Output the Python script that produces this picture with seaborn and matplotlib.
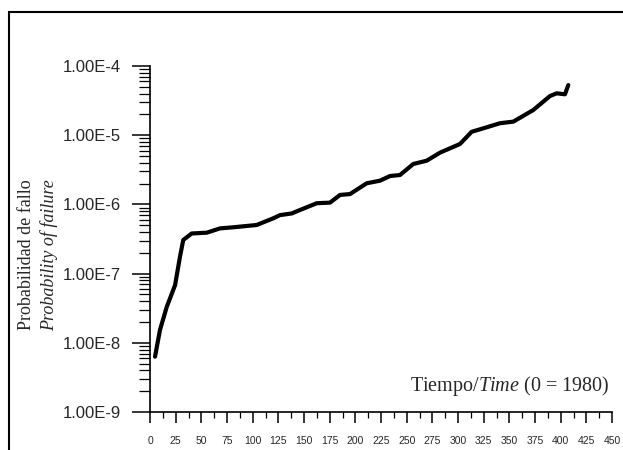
import numpy as np
import pandas as pd
import matplotlib
matplotlib.use('Agg')
import matplotlib.pyplot as plt
import matplotlib.ticker as mticker
from matplotlib.patches import Rectangle
import seaborn as sns

# ================= 0. style =================
sns.set_style('ticks')
plt.rcParams['font.family'] = ['Liberation Sans', 'DejaVu Sans']
plt.rcParams['mathtext.fontset'] = 'custom'
plt.rcParams['mathtext.rm'] = 'Liberation Serif'
plt.rcParams['mathtext.it'] = 'Liberation Serif:italic'

# ================= 1. data =================
tiempo = [4.9, 9.7, 16.3, 24.4, 29.2, 32.4, 40.6, 55.2, 68.2, 81.1,
          103.9, 120.1, 126.6, 138.0, 146.1, 162.4, 175.3, 185.1, 194.8, 211.1,
          224.0, 233.8, 243.5, 256.5, 269.5, 282.4, 301.9, 313.3, 327.9, 340.9,
          353.9, 373.3, 389.6, 396.1, 404.2, 407.4]
prob_fallo = [6.3e-9, 1.53e-8, 3.3e-8, 6.8e-8, 1.75e-7, 3.06e-7, 3.8e-7, 3.9e-7, 4.5e-7, 4.67e-7,
              5.04e-7, 6.3e-7, 7.0e-7, 7.4e-7, 8.3e-7, 1.04e-6, 1.06e-6, 1.37e-6, 1.41e-6, 2.02e-6,
              2.2e-6, 2.57e-6, 2.66e-6, 3.84e-6, 4.28e-6, 5.59e-6, 7.46e-6, 1.12e-5, 1.3e-5, 1.49e-5,
              1.57e-5, 2.31e-5, 3.68e-5, 4.03e-5, 3.9e-5, 5.3e-5]

y_ticks = [1e-9, 1e-8, 1e-7, 1e-6, 1e-5, 1e-4]
y_ticklabels = ['1.00E-9', '1.00E-8', '1.00E-7', '1.00E-6', '1.00E-5', '1.00E-4']

df = pd.DataFrame({'Tiempo': tiempo, 'Prob': prob_fallo})

# ================= 2. plot =================
fig = plt.figure(figsize=(6.23, 4.5), dpi=100)
ax = fig.add_axes([150 / 623, 1 - 412 / 450, 462 / 623, 346 / 450])

sns.lineplot(data=df, x='Tiempo', y='Prob', color='black', linewidth=3,
             sort=False, ax=ax)

ax.set_yscale('log')
ax.set_ylim(1e-9, 1e-4)
ax.set_xlim(0, 450)
sns.despine(ax=ax)
for s in ['left', 'bottom']:
    ax.spines[s].set_linewidth(1.2)
    ax.spines[s].set_color('black')

ax.yaxis.set_major_locator(mticker.FixedLocator(y_ticks))
ax.yaxis.set_major_formatter(mticker.FixedFormatter(y_ticklabels))
ax.yaxis.set_minor_locator(mticker.LogLocator(base=10, subs=np.arange(2, 10)))
ax.yaxis.set_minor_formatter(mticker.NullFormatter())

ax.xaxis.set_major_locator(mticker.MultipleLocator(25))
ax.xaxis.set_minor_locator(mticker.MultipleLocator(12.5))

ax.tick_params(axis='y', which='major', length=13, width=1.1, pad=8, labelsize=12, color='black')
ax.tick_params(axis='y', which='minor', length=8, width=0.9, color='black')
ax.tick_params(axis='x', which='major', length=8, width=1.1, pad=9, labelsize=7.5, color='black')
ax.tick_params(axis='x', which='minor', length=4.5, width=0.9, color='black')

ax.set_xlabel(None)
ax.set_ylabel(None)

# x label inside the axes, bottom right
ax.text(0.995, 0.075, r'Tiempo/$\mathit{Time}$ (0 = 1980)', transform=ax.transAxes,
        ha='right', va='center', fontsize=14.5, family='Liberation Serif')

# two line y label
fig.text(27 / 623, 1 - 255 / 450, 'Probabilidad de fallo', rotation=90,
         ha='center', va='center', fontsize=13, family='Liberation Serif')
fig.text(49 / 623, 1 - 255 / 450, 'Probability of failure', rotation=90,
         ha='center', va='center', fontsize=13, family='Liberation Serif', style='italic')

# outer frame (open to right and bottom)
fig.patches.append(Rectangle((9 / 623, -0.2), 1.2, 1 - 12 / 450 + 0.2,
                             transform=fig.transFigure, fill=False,
                             edgecolor='black', linewidth=1.5, clip_on=False))

# ================= 3. save =================
plt.savefig('out.png', dpi=100)
